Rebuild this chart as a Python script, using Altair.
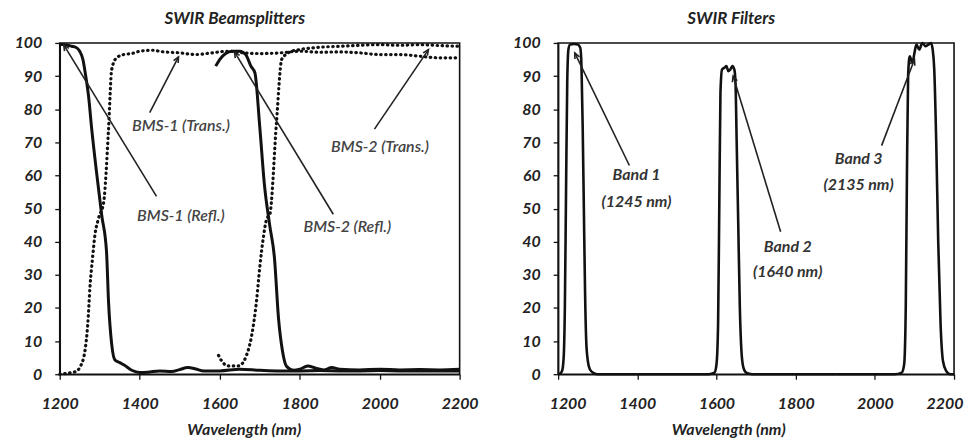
import math
import altair as alt
import pandas as pd

# ---------------- Left panel: SWIR Beamsplitters ----------------
bms1_refl_wl = [1200, 1210, 1220, 1230, 1240, 1250, 1258, 1265, 1272, 1280, 1292, 1305, 1317, 1322, 1330, 1338,
                1350, 1362, 1380, 1400, 1420, 1450, 1480, 1500, 1520, 1540, 1560, 1600, 1650, 1700, 1750, 1800,
                1850, 1900, 1950, 2000, 2050, 2100, 2150, 2200]
bms1_refl_v = [99.5, 99.5, 99.3, 99.0, 98.7, 97.5, 95, 90, 84, 74, 61, 48, 37, 22, 9, 4.3,
               3.5, 2.7, 1.2, 0.5, 0.6, 1.0, 0.8, 1.4, 2.0, 1.6, 1.0, 1.0, 1.5, 1.2, 1.0, 1.0,
               1.1, 1.0, 1.0, 1.1, 1.0, 1.0, 1.0, 1.0]

bms1_trans_wl = [1200, 1220, 1240, 1250, 1263, 1270, 1276, 1282, 1288, 1297, 1310, 1322, 1330, 1342, 1360,
                 1380, 1400, 1430, 1460, 1500, 1540, 1580, 1620, 1660, 1700, 1750, 1800, 1850, 1900, 1950,
                 2000, 2050, 2100, 2150, 2200]
bms1_trans_v = [0, 0.3, 0.8, 2, 7, 15, 27, 35, 42, 47, 52, 74, 92, 95.5, 96.5,
                96.8, 97.5, 97.8, 97.3, 97.0, 96.5, 97.0, 97.5, 97.0, 96.8, 97.0, 97.5, 97.2, 97.3, 97.0,
                96.5, 96.5, 96.0, 95.5, 95.5]

bms2_refl_wl = [1590, 1600, 1615, 1630, 1650, 1665, 1678, 1688, 1700, 1712, 1725, 1737, 1747, 1757, 1767,
                1785, 1800, 1820, 1840, 1860, 1880, 1900, 1950, 2000, 2050, 2100, 2150, 2200]
bms2_refl_v = [93, 95, 96.8, 97.5, 97.5, 96.5, 93, 91, 75, 57, 45, 35, 17, 7, 2.4,
               1.2, 1.5, 2.5, 1.8, 1.3, 2.0, 1.5, 1.3, 1.5, 1.3, 1.4, 1.3, 1.5]

bms2_trans_wl = [1597, 1605, 1622, 1647, 1667, 1680, 1692, 1700, 1710, 1718, 1725, 1742, 1755, 1765, 1780,
                 1800, 1850, 1900, 1950, 2000, 2050, 2100, 2150, 2200]
bms2_trans_v = [5.7, 4, 2.5, 2.5, 5.7, 11.7, 22, 32, 42, 47, 48, 76, 95, 96.5, 97.5,
                98, 98.7, 99, 99.3, 99.5, 99.3, 99.5, 99.2, 99.0]

# annotations: label text, label position, arrow tail, arrow tip
bms_labels = ["BMS-1 (Trans.)", "BMS-1 (Refl.)", "BMS-2 (Trans.)", "BMS-2  (Refl.)"]
bms_label_wl = [1503, 1503, 2001, 1919]
bms_label_v = [74.8, 47.7, 68.5, 44.4]
bms_tail_wl = [1425, 1442, 1987, 1884]
bms_tail_v = [79, 53.7, 74, 48.3]
bms_tip_wl = [1497, 1210, 2122, 1637]
bms_tip_v = [95.8, 99.4, 98, 97.3]

# ---------------- Right panel: SWIR Filters ----------------
band1_wl = [1200, 1205, 1210, 1214, 1217, 1220, 1223, 1226, 1230, 1240, 1250, 1256, 1259, 1262, 1265, 1268,
            1271, 1275, 1280, 1290, 1300, 1400]
band1_v = [0, 0.2, 1, 5, 20, 55, 88, 98, 99.5, 99.7, 99.5, 98.5, 93, 75, 50, 25,
           10, 4, 1.5, 0.3, 0, 0]
band2_wl = [1400, 1580, 1595, 1600, 1604, 1607, 1610, 1614, 1620, 1625, 1630, 1635, 1640, 1645, 1648, 1651,
            1655, 1659, 1663, 1668, 1675, 1690, 1900]
band2_v = [0, 0, 0.5, 3, 15, 50, 85, 92, 92.5, 93, 91.5, 92, 93, 92, 88, 70,
           45, 20, 7, 2, 0.5, 0, 0]
band3_wl = [1900, 2050, 2068, 2074, 2078, 2081, 2084, 2088, 2095, 2100, 2105, 2112, 2120, 2128, 2135, 2142,
            2146, 2150, 2155, 2160, 2166, 2172, 2180, 2190, 2200]
band3_v = [0, 0, 0.5, 3, 20, 60, 90, 96, 94, 97, 99.5, 98, 100, 99, 99.5, 100,
           98, 92, 70, 40, 15, 4, 1, 0, 0]

band_line1 = ["Band 1", "Band 2", "Band 3"]
band_line2 = ["(1245 nm)", "(1640 nm)", "(2135 nm)"]
band_label_wl = [1398, 1780, 1959]
band_label_v1 = [60, 38.4, 64.9]
band_label_v2 = [52, 30.9, 57]
band_tail_wl = [1380, 1762, 2017]
band_tail_v = [63, 43, 69]
band_tip_wl = [1242, 1642, 2100]
band_tip_v = [97, 90, 95]

x_ticks = [1200, 1400, 1600, 1800, 2000, 2200]
y_ticks = [0, 10, 20, 30, 40, 50, 60, 70, 80, 90, 100]

LW, RW, H = 402, 398, 333
FONT = "Lato"


def series_df(pairs):
    rows = []
    for name, wl, v in pairs:
        for a, b in zip(wl, v):
            rows.append({"series": name, "wl": a, "v": b})
    return pd.DataFrame(rows)


def arrows_df(tail_wl, tail_v, tip_wl, tip_v, width):
    rows = []
    for a, b, c, d in zip(tail_wl, tail_v, tip_wl, tip_v):
        dx = (c - a) * width / 1000.0
        dy = (d - b) * H / 100.0
        ang = math.degrees(math.atan2(dx, dy)) % 360
        rows.append({"wl": a, "v": b, "wl2": c, "v2": d, "ang": ang})
    return pd.DataFrame(rows)


def make_x(field, title_x, flush):
    ax = dict(values=x_ticks, format="d", title="Wavelength (nm)", titleX=title_x, labelOverlap=False)
    if flush:
        ax.update(labelFlush=True, labelFlushOffset=9)
    else:
        ax.update(labelFlush=False)
    return alt.X(field, scale=alt.Scale(domain=[1200, 2200], nice=False, zero=False), axis=alt.Axis(**ax))


def make_y(field):
    return alt.Y(field, scale=alt.Scale(domain=[0, 100], nice=False),
                 axis=alt.Axis(values=y_ticks, format="d", title=None, labelFlush=False, labelOverlap=False))


ARROW = "M-0.45,1 L0,0 L0.45,1"


def arrow_layers(df, tx, flush):
    rule = alt.Chart(df).mark_rule(color="#222", strokeWidth=1.6).encode(
        x=make_x("wl:Q", tx, flush), y=make_y("v:Q"), x2="wl2:Q", y2="v2:Q")
    head = alt.Chart(df).mark_point(shape=ARROW, filled=False, color="#222", strokeWidth=1.6,
                                    size=130, opacity=1).encode(
        x=make_x("wl2:Q", tx, flush), y=make_y("v2:Q"), angle=alt.Angle("ang:Q", scale=None))
    return [rule, head]


# ---- left chart ----
solid_left = series_df([("BMS-1 Refl", bms1_refl_wl, bms1_refl_v),
                        ("BMS-2 Refl", bms2_refl_wl, bms2_refl_v)])
dot_left = series_df([("BMS-1 Trans", bms1_trans_wl, bms1_trans_v),
                      ("BMS-2 Trans", bms2_trans_wl, bms2_trans_v)])

LTX = 185
l_solid = alt.Chart(solid_left).mark_line(color="#111", strokeWidth=3, interpolate="monotone").encode(
    x=make_x("wl:Q", LTX, False), y=make_y("v:Q"), detail="series:N")
l_dot = alt.Chart(dot_left).mark_line(color="#111", strokeWidth=3.2, strokeDash=[0.5, 4.5], strokeCap="round",
                                      interpolate="monotone").encode(
    x=make_x("wl:Q", LTX, False), y=make_y("v:Q"), detail="series:N")
lab_left = pd.DataFrame({"t": bms_labels, "wl": bms_label_wl, "v": bms_label_v})
l_text = alt.Chart(lab_left).mark_text(font=FONT, fontSize=16, fontStyle="italic", fontWeight=600,
                                       color="#444").encode(
    x=make_x("wl:Q", LTX, False), y=make_y("v:Q"), text="t:N")

left = alt.layer(l_solid, l_dot,
                 *arrow_layers(arrows_df(bms_tail_wl, bms_tail_v, bms_tip_wl, bms_tip_v, LW), LTX, False),
                 l_text).properties(
    width=LW, height=H,
    title=alt.TitleParams("SWIR Beamsplitters", font=FONT, fontSize=17, fontStyle="italic", fontWeight="bold",
                          color="#222", anchor="middle", dx=-25, dy=-5, offset=2))

# ---- right chart ----
RTX = 171
band_df = series_df([("Band 1", band1_wl, band1_v), ("Band 2", band2_wl, band2_v),
                     ("Band 3", band3_wl, band3_v)])
r_lines = alt.Chart(band_df).mark_line(color="#111", strokeWidth=2.6, interpolate="monotone").encode(
    x=make_x("wl:Q", RTX, True), y=make_y("v:Q"), detail="series:N")
lab_r1 = pd.DataFrame({"t": band_line1, "wl": band_label_wl, "v": band_label_v1})
lab_r2 = pd.DataFrame({"t": band_line2, "wl": band_label_wl, "v": band_label_v2})
r_text1 = alt.Chart(lab_r1).mark_text(font=FONT, fontSize=16, fontStyle="italic", fontWeight="bold",
                                      color="#333").encode(
    x=make_x("wl:Q", RTX, True), y=make_y("v:Q"), text="t:N")
r_text2 = alt.Chart(lab_r2).mark_text(font=FONT, fontSize=16, fontStyle="italic", fontWeight="bold",
                                      color="#333").encode(
    x=make_x("wl:Q", RTX, True), y=make_y("v:Q"), text="t:N")

right = alt.layer(r_lines,
                  *arrow_layers(arrows_df(band_tail_wl, band_tail_v, band_tip_wl, band_tip_v, RW), RTX, True),
                  r_text1, r_text2).properties(
    width=RW, height=H,
    title=alt.TitleParams("SWIR Filters", font=FONT, fontSize=17, fontStyle="italic", fontWeight="bold",
                          color="#222", anchor="middle", dx=-25, dy=-5, offset=2))

chart = alt.hconcat(left, right, spacing=32).configure_view(
    stroke="#111", strokeWidth=1.6
).configure_axis(
    grid=False, domainColor="#111", domainWidth=1.6, tickColor="#111", tickSize=5, tickWidth=1.3,
    labelFont=FONT, labelFontSize=16, labelFontStyle="italic", labelFontWeight="bold", labelColor="#222",
    titleFont=FONT, titleFontSize=16, titleFontStyle="italic", titleFontWeight="bold",
    titleColor="#222", labelOverlap=False
).configure_axisX(
    labelPadding=16, titlePadding=11
).configure_axisY(
    labelPadding=13
).properties(padding={"left": 5, "right": 0, "top": 0, "bottom": 0})

chart.save("out.html", embed_options={"renderer": "svg", "actions": False})
